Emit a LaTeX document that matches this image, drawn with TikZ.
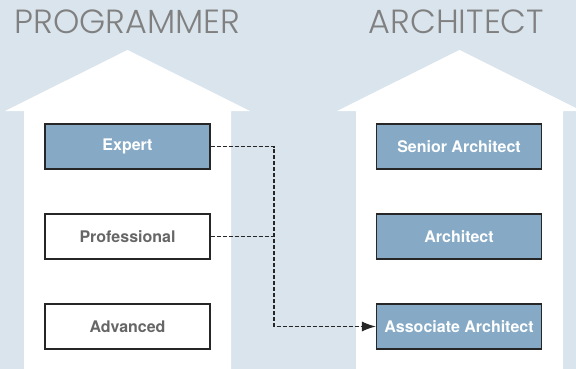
\documentclass[tikz,border=0pt]{standalone}
\usepackage{fontspec}
\usetikzlibrary{arrows.meta}
\newfontfamily\headfont{Poppins Light}
\newfontfamily\boxfont{TeX Gyre Heros}
\definecolor{backblue}{HTML}{D9E4ED}
\definecolor{rankblue}{HTML}{86AAC6}
\definecolor{headgray}{HTML}{808080}
\definecolor{labelgray}{HTML}{666666}
\tikzset{
  rank/.style={draw=black!85, line width=1.2pt, minimum width=165pt, minimum height=45pt,
    inner sep=0pt, font=\boxfont\bfseries\fontsize{16}{19}\selectfont},
  filled/.style={rank, fill=rankblue, text=white},
  plain/.style={rank, fill=white, text=labelgray},
  link/.style={black!85, line width=1.1pt, dash pattern=on 4pt off 2pt},
  head/.style={anchor=base, text=headgray, font=\headfont\fontsize{33.5}{40}\selectfont}
}
\begin{document}
\begin{tikzpicture}[x=1pt, y=-1pt]
  \fill[backblue] (0,0) rectangle (576,369);
  \useasboundingbox (0,0) rectangle (576,369);
  % houses
  \fill[white] (24,369) -- (24,111) -- (5,111) -- (127.5,50) -- (250,111)
    -- (231,111) -- (231,369) -- cycle;
  \fill[white] (356,369) -- (356,111) -- (337,111) -- (459.5,50) -- (582,111)
    -- (563,111) -- (563,369) -- cycle;
  \node[head] (prog) at (127.5,34) {PROGRAMMER};
  \node[head] (arch) at (456.5,34) {ARCHITECT};
  % programmer ranks
  \node[filled] (expert) at (127.5,146.5) {Expert};
  \node[plain] (prof) at (127.5,236.5) {Professional};
  \node[plain] (adv) at (127.5,326.5) {Advanced};
  % architect ranks
  \node[filled] (senior) at (459,146.5) {Senior Architect};
  \node[filled] (archt) at (459,236.5) {Architect};
  \node[filled] (assoc) at (459,326.5) {Associate Architect};
  % moves
  \coordinate (drop) at (274,146.5);
  \draw[link, -{Latex[length=14pt,width=10pt]}] (expert.east) -- (drop) |- (assoc.west);
  \draw[link] (prof.east) -- (prof.east -| drop);
\end{tikzpicture}
\end{document}
